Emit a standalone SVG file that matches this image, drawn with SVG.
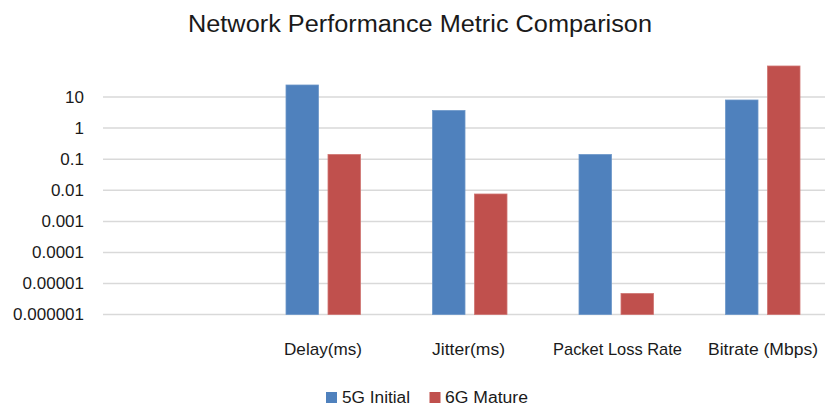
<svg xmlns="http://www.w3.org/2000/svg" width="825" height="406" viewBox="0 0 825 406">
  <style>
    text { font-family: "Liberation Sans", Arial, sans-serif; fill: #1a1a1a; }
    .title { font-size: 23px; }
    .tick { font-size: 17px; text-anchor: end; }
    .cat { font-size: 17px; }
    .leg { font-size: 16px; }
    .grid line { stroke: #d9d9d9; stroke-width: 1.5; }
    .s1 { fill: #4f81bd; stroke: #6d97c9; stroke-width: 0.8; }
    .s2 { fill: #c0504d; stroke: #cf7472; stroke-width: 0.8; }
  </style>
  <rect width="825" height="406" fill="#ffffff"/>

  <text class="title" x="188" y="32" textLength="464" lengthAdjust="spacingAndGlyphs">Network Performance Metric Comparison</text>

  <!-- log-scale gridlines, one decade per 31px -->
  <g class="grid">
    <line x1="103" y1="97" x2="825" y2="97"/>
    <line x1="103" y1="128" x2="825" y2="128"/>
    <line x1="103" y1="159.2" x2="825" y2="159.2"/>
    <line x1="103" y1="190.3" x2="825" y2="190.3"/>
    <line x1="103" y1="221.4" x2="825" y2="221.4"/>
    <line x1="103" y1="252.4" x2="825" y2="252.4"/>
    <line x1="103" y1="283.4" x2="825" y2="283.4"/>
    <line x1="103" y1="314.5" x2="825" y2="314.5"/>
  </g>

  <g id="y-axis">
    <text class="tick" x="84" y="103">10</text>
    <text class="tick" x="84" y="134">1</text>
    <text class="tick" x="84" y="165">0.1</text>
    <text class="tick" x="84" y="196">0.01</text>
    <text class="tick" x="84" y="227">0.001</text>
    <text class="tick" x="84" y="258">0.0001</text>
    <text class="tick" x="84" y="289">0.00001</text>
    <text class="tick" x="84" y="320">0.000001</text>
  </g>

  <g id="delay">
    <rect class="s1" x="286" y="85" width="32.5" height="229.5"/>
    <rect class="s2" x="328" y="154.5" width="32.5" height="160"/>
    <text class="cat" x="284" y="355" textLength="78" lengthAdjust="spacingAndGlyphs">Delay(ms)</text>
  </g>
  <g id="jitter">
    <rect class="s1" x="432.5" y="110.5" width="32.5" height="204"/>
    <rect class="s2" x="474.5" y="194" width="32.5" height="120.5"/>
    <text class="cat" x="432" y="355" textLength="73" lengthAdjust="spacingAndGlyphs">Jitter(ms)</text>
  </g>
  <g id="packet-loss">
    <rect class="s1" x="579" y="154.5" width="32.5" height="160"/>
    <rect class="s2" x="621" y="293.5" width="32.5" height="21"/>
    <text class="cat" x="553" y="355" textLength="129" lengthAdjust="spacingAndGlyphs">Packet Loss Rate</text>
  </g>
  <g id="bitrate">
    <rect class="s1" x="725.5" y="100" width="32.5" height="214.5"/>
    <rect class="s2" x="767.5" y="66" width="32.5" height="248.5"/>
    <text class="cat" x="708" y="355" textLength="110" lengthAdjust="spacingAndGlyphs">Bitrate (Mbps)</text>
  </g>

  <g id="legend">
    <rect x="326" y="392" width="11" height="11" fill="#4f81bd"/>
    <text class="leg" x="342" y="403" textLength="68" lengthAdjust="spacingAndGlyphs">5G Initial</text>
    <rect x="429.5" y="392" width="11" height="11" fill="#c0504d"/>
    <text class="leg" x="445" y="403" textLength="83" lengthAdjust="spacingAndGlyphs">6G Mature</text>
  </g>
</svg>
